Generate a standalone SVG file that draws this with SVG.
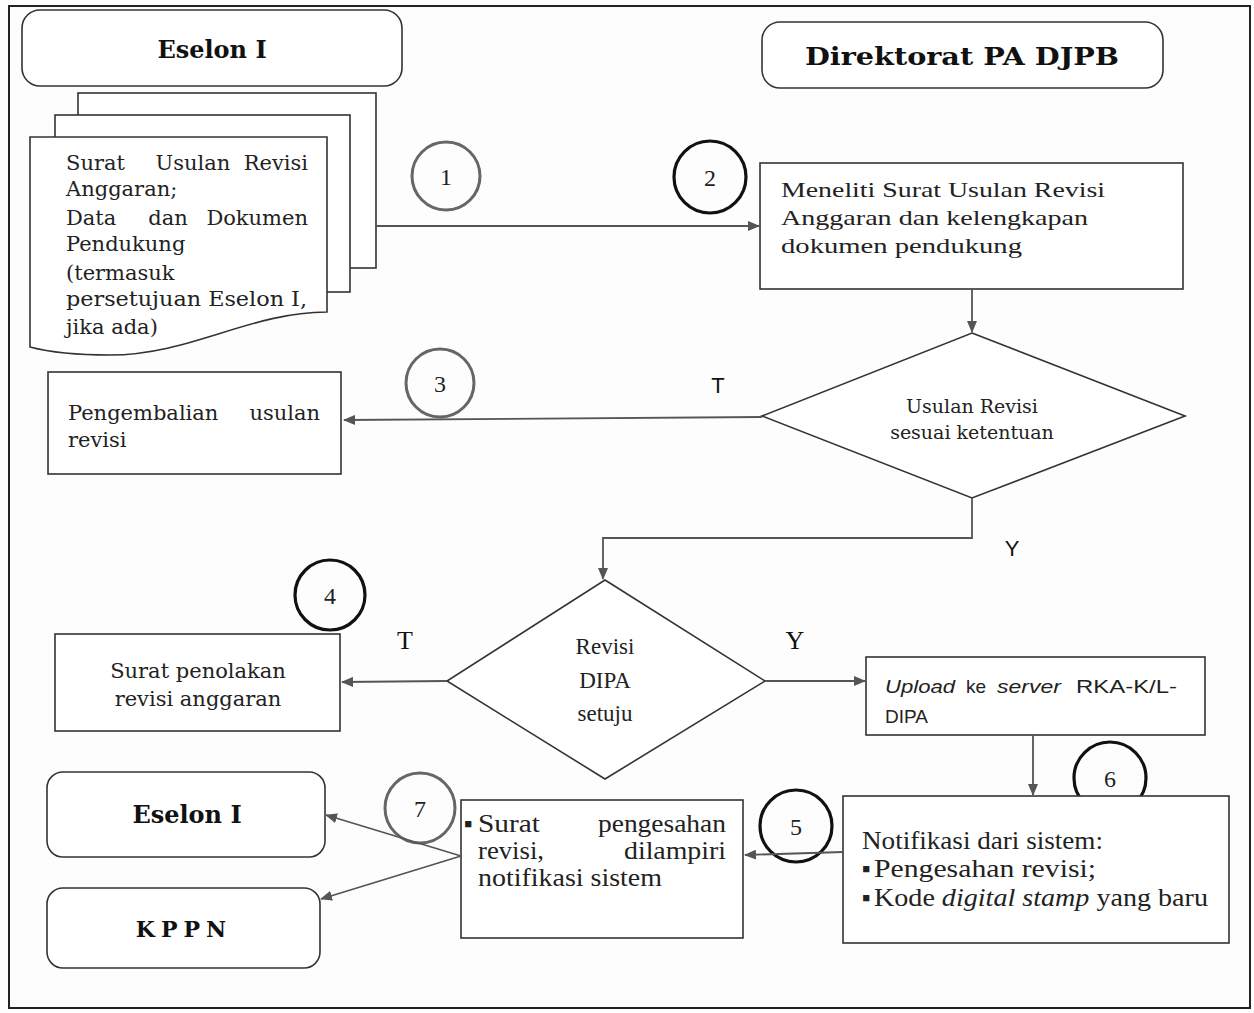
<svg xmlns="http://www.w3.org/2000/svg" width="1254" height="1013" viewBox="0 0 1254 1013">
<style>
.bg{fill:#fdfdfd}
.frame{fill:none;stroke:#222;stroke-width:2}
.box{fill:#fff;stroke:#333;stroke-width:1.6}
.rbox{fill:#fff;stroke:#333;stroke-width:1.6}
.conn{fill:none;stroke:#555;stroke-width:1.8}
.c-thin{fill:none;stroke:#666;stroke-width:3}
.c-thick{fill:none;stroke:#111;stroke-width:3.2}
.title{font-family:"DejaVu Serif",serif;font-weight:bold;font-size:24px;fill:#111}
.bk{font-family:"DejaVu Serif",serif;font-size:21px;fill:#222}
.cm{font-family:"Liberation Serif",serif;font-size:22px;fill:#222}
.cn{font-family:"Liberation Serif",serif;font-size:25px;fill:#222}
.num{font-family:"Liberation Serif",serif;font-size:24px;fill:#222;text-anchor:middle}
.lblS{font-family:"Liberation Sans",sans-serif;font-size:22px;fill:#111;text-anchor:middle}
.lblT{font-family:"Liberation Serif",serif;font-size:26px;fill:#111;text-anchor:middle}
.sans{font-family:"Liberation Sans",sans-serif;font-size:19px;fill:#222}
.mid{text-anchor:middle}
.end{text-anchor:end}
</style>
<defs>
<marker id="ah" viewBox="0 0 12 10" refX="11" refY="5" markerWidth="12" markerHeight="10" markerUnits="userSpaceOnUse" orient="auto">
<path d="M0,0 L12,5 L0,10 Z" fill="#555"/>
</marker>
</defs>
<rect class="bg" x="0" y="0" width="1254" height="1013"/>
<rect class="frame" x="9" y="6" width="1241" height="1002"/>

<g id="eselon-top">
<rect class="rbox" x="22" y="10" width="380" height="76" rx="18"/>
<text class="title mid" x="212" y="58">Eselon I</text>
</g>

<g id="direktorat">
<rect class="rbox" x="762" y="22" width="401" height="66" rx="18"/>
<text class="title mid" x="962" y="65" textLength="314" lengthAdjust="spacingAndGlyphs">Direktorat PA DJPB</text>
</g>

<g id="dokumen">
<rect class="box" x="78" y="93" width="298" height="175"/>
<rect class="box" x="55" y="115" width="295" height="177"/>
<path class="box" d="M30,137 H327 V312 C250,312 190,355 110,355 C70,355 45,351 30,347 Z"/>
<text class="bk" x="66" y="170">Surat</text>
<text class="bk mid" x="193" y="170">Usulan</text>
<text class="bk end" x="308" y="170">Revisi</text>
<text class="bk" x="66" y="196">Anggaran;</text>
<text class="bk" x="66" y="225">Data</text>
<text class="bk mid" x="168" y="225">dan</text>
<text class="bk end" x="308" y="225">Dokumen</text>
<text class="bk" x="66" y="251">Pendukung</text>
<text class="bk" x="66" y="280">(termasuk</text>
<text class="bk" x="66" y="306" textLength="241" lengthAdjust="spacingAndGlyphs">persetujuan Eselon I,</text>
<text class="bk" x="66" y="334">jika ada)</text>
</g>

<g id="step1"><circle class="c-thin" cx="446" cy="176" r="34"/><text class="num" x="446" y="185">1</text></g>
<g id="step2"><circle class="c-thick" cx="710" cy="177" r="36"/><text class="num" x="710" y="186">2</text></g>

<g id="meneliti">
<rect class="box" x="760" y="163" width="423" height="126"/>
<text class="cm" x="781" y="197" textLength="324" lengthAdjust="spacingAndGlyphs">Meneliti Surat Usulan Revisi</text>
<text class="cm" x="781" y="225" textLength="307" lengthAdjust="spacingAndGlyphs">Anggaran dan kelengkapan</text>
<text class="cm" x="781" y="253" textLength="241" lengthAdjust="spacingAndGlyphs">dokumen pendukung</text>
</g>

<g id="keputusan1">
<polygon class="box" points="972,333 1185,416 972,498 762,416"/>
<text class="bk mid" x="972" y="413" style="font-size:19px">Usulan Revisi</text>
<text class="bk mid" x="972" y="439" style="font-size:19px">sesuai ketentuan</text>
</g>

<g id="pengembalian">
<rect class="box" x="48" y="372" width="293" height="102"/>
<text class="bk" x="68" y="420">Pengembalian</text>
<text class="bk end" x="320" y="420">usulan</text>
<text class="bk" x="68" y="447">revisi</text>
</g>
<g id="step3"><circle class="c-thin" cx="440" cy="383" r="34"/><text class="num" x="440" y="392">3</text></g>

<g id="keputusan2">
<polygon class="box" points="605,580 765,681 605,779 447,681"/>
<text class="cm mid" x="605" y="654" style="font-size:23px">Revisi</text>
<text class="cm mid" x="605" y="688" style="font-size:23px">DIPA</text>
<text class="cm mid" x="605" y="721" style="font-size:23px">setuju</text>
</g>

<g id="step4"><circle class="c-thick" cx="330" cy="595" r="35"/><text class="num" x="330" y="604">4</text></g>

<g id="penolakan">
<rect class="box" x="55" y="634" width="285" height="97"/>
<text class="bk mid" x="198" y="678">Surat penolakan</text>
<text class="bk mid" x="198" y="706">revisi anggaran</text>
</g>

<g id="upload">
<rect class="box" x="866" y="657" width="339" height="78"/>
<text class="sans" x="885" y="693" font-style="italic" textLength="70" lengthAdjust="spacingAndGlyphs">Upload</text>
<text class="sans" x="966" y="693">ke</text>
<text class="sans" x="997" y="693" font-style="italic" textLength="64" lengthAdjust="spacingAndGlyphs">server</text>
<text class="sans" x="1076" y="693" textLength="101" lengthAdjust="spacingAndGlyphs">RKA-K/L-</text>
<text class="sans" x="885" y="723">DIPA</text>
</g>

<g id="step6"><circle class="c-thick" cx="1110" cy="778" r="36"/><text class="num" x="1110" y="787">6</text></g>

<g id="notifikasi">
<rect class="box" x="843" y="796" width="386" height="147"/>
<text class="cn" x="862" y="849" textLength="241" lengthAdjust="spacingAndGlyphs">Notifikasi dari sistem:</text>
<text class="cn" x="862" y="877">▪</text>
<text class="cn" x="874" y="877" textLength="222" lengthAdjust="spacingAndGlyphs">Pengesahan revisi;</text>
<text class="cn" x="862" y="906">▪</text>
<text class="cn" x="874" y="906" textLength="334" lengthAdjust="spacingAndGlyphs">Kode <tspan font-style="italic">digital stamp</tspan> yang baru</text>
</g>

<g id="step5"><circle class="c-thick" cx="796" cy="826" r="36"/><text class="num" x="796" y="835">5</text></g>

<g id="pengesahan">
<rect class="box" x="461" y="800" width="282" height="138"/>
<text class="cn" x="464" y="832">▪</text>
<text class="cn" x="478" y="832" textLength="62" lengthAdjust="spacingAndGlyphs">Surat</text>
<text class="cn end" x="726" y="832" textLength="128" lengthAdjust="spacingAndGlyphs">pengesahan</text>
<text class="cn" x="478" y="859" textLength="66" lengthAdjust="spacingAndGlyphs">revisi,</text>
<text class="cn end" x="726" y="859" textLength="102" lengthAdjust="spacingAndGlyphs">dilampiri</text>
<text class="cn" x="478" y="886" textLength="184" lengthAdjust="spacingAndGlyphs">notifikasi sistem</text>
</g>

<g id="step7"><circle class="c-thin" cx="420" cy="808" r="35"/><text class="num" x="420" y="817">7</text></g>

<g id="eselon-bawah">
<rect class="rbox" x="47" y="772" width="278" height="85" rx="16"/>
<text class="title mid" x="187" y="823">Eselon I</text>
</g>

<g id="kppn">
<rect class="rbox" x="47" y="888" width="273" height="80" rx="16"/>
<text class="title mid" x="184" y="937" style="font-size:22px;letter-spacing:6px">KPPN</text>
</g>

<g id="connectors">
<line class="conn" x1="376" y1="226" x2="759" y2="226" marker-end="url(#ah)"/>
<line class="conn" x1="972" y1="289" x2="972" y2="332" marker-end="url(#ah)"/>
<line class="conn" x1="762" y1="417" x2="344" y2="420" marker-end="url(#ah)"/>
<polyline class="conn" points="972,498 972,538 603,538 603,579" marker-end="url(#ah)"/>
<line class="conn" x1="447" y1="681" x2="342" y2="682" marker-end="url(#ah)"/>
<line class="conn" x1="765" y1="681" x2="865" y2="681" marker-end="url(#ah)"/>
<line class="conn" x1="1033" y1="735" x2="1033" y2="795" marker-end="url(#ah)"/>
<line class="conn" x1="843" y1="852" x2="745" y2="855" marker-end="url(#ah)"/>
<line class="conn" x1="461" y1="856" x2="326" y2="815" marker-end="url(#ah)"/>
<line class="conn" x1="461" y1="856" x2="321" y2="899" marker-end="url(#ah)"/>
</g>

<g id="labels">
<text class="lblS" x="718" y="393">T</text>
<text class="lblS" x="1012" y="556">Y</text>
<text class="lblT" x="405" y="649">T</text>
<text class="lblT" x="795" y="649">Y</text>
</g>
</svg>
